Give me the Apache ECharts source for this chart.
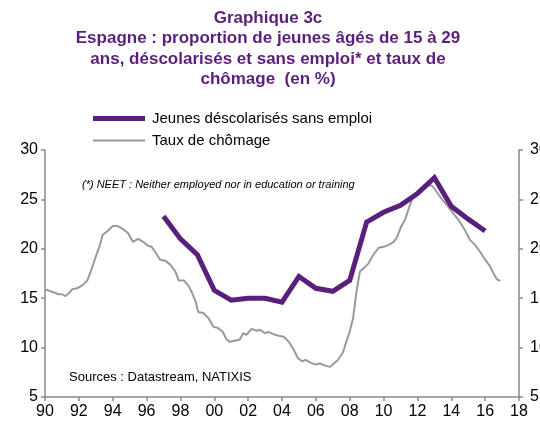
<!DOCTYPE html>
<html>
<head>
<meta charset="utf-8">
<script src="https://cdn.jsdelivr.net/npm/echarts@6/dist/echarts.min.js"></script>
<style>
html,body{margin:0;padding:0;background:#fff;}
#c{width:540px;height:425px;}
</style>
</head>
<body>
<div id="c"></div>
<script>
// NEET share (annual)
const neetYears = [1997,1998,1999,2000,2001,2002,2003,2004,2005,2006,2007,2008,2009,2010,2011,2012,2013,2014,2015,2016];
const neetValues = [23.3,21.0,19.4,15.8,14.8,15.0,15.0,14.6,17.2,16.0,15.7,16.8,22.7,23.7,24.4,25.6,27.2,24.3,23.0,21.8];
// Unemployment rate (monthly-ish)
const unempYears = [1990.0,1990.1,1990.5,1990.8,1991.0,1991.2,1991.4,1991.6,1991.9,1992.2,1992.5,1992.7,1992.9,1993.1,1993.25,1993.4,1993.7,1994.0,1994.3,1994.6,1994.9,1995.2,1995.5,1995.8,1996.1,1996.3,1996.5,1996.8,1997.1,1997.4,1997.7,1997.9,1998.2,1998.5,1998.7,1998.9,1999.05,1999.35,1999.65,1999.95,2000.2,2000.5,2000.7,2000.9,2001.2,2001.5,2001.7,2001.9,2002.2,2002.5,2002.7,2003.0,2003.2,2003.5,2003.8,2004.1,2004.4,2004.7,2004.95,2005.2,2005.4,2005.65,2005.95,2006.25,2006.5,2006.85,2007.0,2007.3,2007.6,2007.8,2008.0,2008.2,2008.4,2008.6,2008.8,2009.1,2009.4,2009.7,2010.0,2010.3,2010.6,2010.8,2011.0,2011.3,2011.55,2011.75,2012.05,2012.35,2012.6,2012.85,2013.0,2013.2,2013.5,2013.8,2014.2,2014.5,2014.8,2015.1,2015.4,2015.7,2016.0,2016.3,2016.5,2016.7,2016.9];
const unempValues = [15.9,15.8,15.6,15.4,15.4,15.2,15.5,15.9,16.0,16.3,16.8,17.7,18.7,19.7,20.4,21.4,21.8,22.3,22.3,22.0,21.6,20.7,21.0,20.7,20.3,20.2,19.7,18.9,18.8,18.4,17.7,16.8,16.8,16.2,15.5,14.65,13.6,13.5,13.0,12.1,12.0,11.6,10.9,10.6,10.7,10.8,11.45,11.3,11.9,11.7,11.8,11.45,11.6,11.35,11.2,11.1,10.6,9.75,8.9,8.6,8.75,8.5,8.3,8.4,8.2,8.05,8.3,8.75,9.5,10.6,11.6,13.0,15.65,17.7,18.0,18.5,19.4,20.1,20.2,20.4,20.7,21.2,22.1,23.1,24.4,25.3,25.85,26.3,26.4,26.4,26.1,25.6,24.9,24.3,23.4,22.75,21.9,20.9,20.4,19.7,18.9,18.2,17.5,16.9,16.75];
const xTickLabels = ['90','92','94','96','98','00','02','04','06','08','10','12','14','16','18'];
const yTickLabels = ['5','10','15','20','25','30'];
const seriesNames = ['Jeunes déscolarisés sans emploi','Taux de chômage'];

const FONT = '"Liberation Sans", Arial, sans-serif';
const PURPLE = '#5a1f7a';
const GRAY = '#9a9a9a';
const AXIS = '#8a8a8a';

const chart = echarts.init(document.getElementById('c'), null, {renderer:'canvas'});
function yAxisDef(pos, margin){
  return {
    type:'value', min:5, max:30, interval:5, position:pos,
    axisLine:{show:true, lineStyle:{color:AXIS, width:1.5}},
    axisTick:{show:true, inside:false, length:4, lineStyle:{color:AXIS, width:1.5}},
    splitLine:{show:false},
    axisLabel:{color:'#000', fontSize:16, fontFamily:FONT, margin:margin,
      formatter:v=>{const i=yTickLabels.indexOf(String(v)); return i>=0?yTickLabels[i]:'';}}
  };
}
chart.setOption({
  animation:false,
  backgroundColor:'#fff',
  title:{
    text:'Graphique 3c\nEspagne : proportion de jeunes âgés de 15 à 29\nans, déscolarisés et sans emploi* et taux de\nchômage  (en %)',
    left:263, top:3, textAlign:'center',
    textStyle:{color:PURPLE, fontSize:17, fontWeight:'bold', fontFamily:FONT, lineHeight:20.5}
  },
  legend:{
    orient:'vertical', left:88, top:106, itemGap:7, itemWidth:52, itemHeight:14,
    textStyle:{color:'#000', fontSize:15, fontFamily:FONT, padding:[0,0,0,2]},
    data:[
      {name:seriesNames[0], icon:'path://M0,0H50V5H0Z'},
      {name:seriesNames[1], icon:'path://M0,0H50V2H0Z'}
    ]
  },
  grid:{left:45, right:21, top:150, bottom:28, containLabel:false, outerBoundsMode:'none'},
  xAxis:{
    type:'value', min:1990, max:2018, interval:2,
    axisLine:{show:true, onZero:false, lineStyle:{color:AXIS, width:1.5}},
    axisTick:{show:true, length:4, lineStyle:{color:AXIS, width:1.5}},
    splitLine:{show:false},
    axisLabel:{color:'#000', fontSize:16, fontFamily:FONT, margin:7,
      formatter:v=>xTickLabels[Math.round((v-1990)/2)]||''}
  },
  yAxis:[ yAxisDef('left', 7), yAxisDef('right', 11) ],
  graphic:[
    {type:'text', left:82, top:179, style:{text:'(*) NEET : Neither employed nor in education or training', fontSize:11, fontStyle:'italic', fontFamily:FONT, fill:'#000'}},
    {type:'text', left:69, top:371, style:{text:'Sources : Datastream, NATIXIS', fontSize:13, fontFamily:FONT, fill:'#000'}}
  ],
  series:[
    {name:seriesNames[0], type:'line', showSymbol:false, symbol:'none', z:3,
     lineStyle:{color:PURPLE, width:5, join:'miter'}, itemStyle:{color:PURPLE},
     data:neetYears.map((y,i)=>[y,neetValues[i]])},
    {name:seriesNames[1], type:'line', showSymbol:false, symbol:'none', z:2,
     lineStyle:{color:GRAY, width:2}, itemStyle:{color:GRAY},
     data:unempYears.map((y,i)=>[y,unempValues[i]])}
  ]
});
</script>
</body>
</html>
